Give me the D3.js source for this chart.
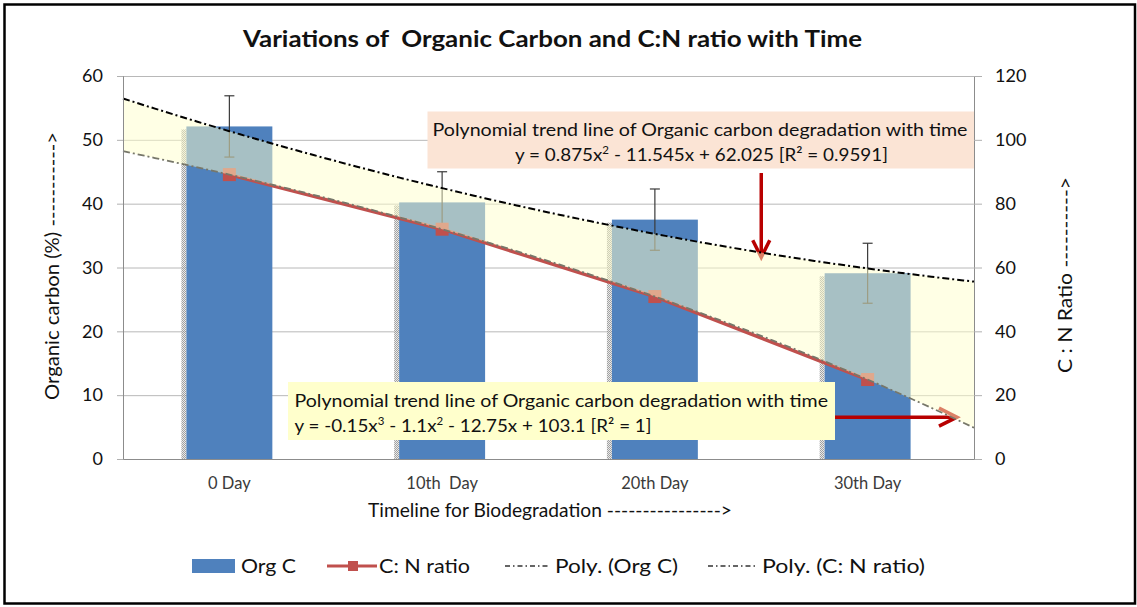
<!DOCTYPE html>
<html><head><meta charset="utf-8">
<script src="https://cdn.jsdelivr.net/npm/d3@7"></script>
<style>
html,body{margin:0;padding:0;background:#fff;}
svg text{font-family:Lato,"Noto Sans",sans-serif;}
</style></head>
<body><svg id="c" width="1137" height="607"></svg>
<script>
// ---------- data ----------
const categories = ["0 Day", "10th  Day", "20th Day", "30th Day"];
const orgC = [52.1, 40.2, 37.5, 29.1];
const orgCErr = [4.8, 4.8, 4.8, 4.7];
const cnRatio = [89.1, 72.0, 50.9, 24.9];
const leftTicks = [0, 10, 20, 30, 40, 50, 60];
const rightTicks = [0, 20, 40, 60, 80, 100, 120];
const polyOrgC = [62.025, -11.545, 0.875];          // c0 + c1 x + c2 x^2
const polyCN = [103.1, -12.75, -1.1, -0.15];         // c0 + c1 x + c2 x^2 + c3 x^3
const seriesNames = ["Org C", "C: N ratio", "Poly. (Org C)", "Poly. (C: N ratio)"];
const titleText = "Variations of  Organic Carbon and C:N ratio with Time";

// ---------- layout ----------
const W = 1137, H = 607;
const M = {left: 123, right: 974, top: 76, bottom: 459};
const svg = d3.select("#c");
svg.append("rect").attr("width", W).attr("height", H).attr("fill", "#fff");

const defs = svg.append("defs");
const pat = defs.append("pattern").attr("id", "stip").attr("width", 2).attr("height", 2)
  .attr("patternUnits", "userSpaceOnUse");
pat.append("rect").attr("width", 2).attr("height", 2).attr("fill", "#e4e4e4");
pat.append("rect").attr("width", 1).attr("height", 1).attr("fill", "#8a8a8a");
pat.append("rect").attr("x", 1).attr("y", 1).attr("width", 1).attr("height", 1).attr("fill", "#8a8a8a");

const x = d3.scaleBand().domain(categories).range([M.left, M.right]).padding(0);
const xT = d3.scaleLinear().domain([0.5, categories.length + 0.5]).range([M.left, M.right]);
const yL = d3.scaleLinear().domain([0, 60]).range([M.bottom, M.top]);
const yR = d3.scaleLinear().domain([0, 120]).range([M.bottom, M.top]);
const barW = x.bandwidth() * 0.404;
const cx = c => x(c) + x.bandwidth() / 2;

const poly = (c, v) => c.reduce((s, k, i) => s + k * Math.pow(v, i), 0);
const trendX = d3.range(0.5, categories.length + 0.5001, 0.05);

// gridlines
svg.append("g").selectAll("line").data(leftTicks.filter(t => t > 0)).join("line")
  .attr("x1", M.left).attr("x2", M.right)
  .attr("y1", d => yL(d) + 0.5).attr("y2", d => yL(d) + 0.5)
  .attr("stroke", "#b8b8b8").attr("stroke-width", 1);

// bars (with soft stippled shadow)
const gb = svg.append("g");
gb.selectAll("rect.sh").data(orgC).join("rect").attr("class", "sh")
  .attr("x", (d, i) => cx(categories[i]) - barW / 2 - 5).attr("width", 5)
  .attr("y", d => yL(d) + 3).attr("height", d => yL(0) - yL(d) - 3)
  .attr("fill", "url(#stip)").attr("opacity", 0.8);
gb.selectAll("rect.b").data(orgC).join("rect").attr("class", "b")
  .attr("x", (d, i) => cx(categories[i]) - barW / 2).attr("width", barW)
  .attr("y", d => yL(d)).attr("height", d => yL(0) - yL(d))
  .attr("fill", "#4F81BD");

// error bars
const ge = svg.append("g").attr("stroke", "#3a3a3a").attr("stroke-width", 1.2);
orgC.forEach((v, i) => {
  const xc = cx(categories[i]);
  const t = yL(v + orgCErr[i]), b = yL(v - orgCErr[i]);
  ge.append("line").attr("x1", xc).attr("x2", xc).attr("y1", t).attr("y2", b);
  ge.append("line").attr("x1", xc - 5).attr("x2", xc + 5).attr("y1", t).attr("y2", t);
  ge.append("line").attr("x1", xc - 5).attr("x2", xc + 5).attr("y1", b).attr("y2", b);
});

// C:N ratio line + markers
const lineCN = d3.line().x((d, i) => cx(categories[i])).y(d => yR(d));
svg.append("path").datum(cnRatio).attr("d", lineCN).attr("fill", "none")
  .attr("stroke", "#C0504D").attr("stroke-width", 3.5);
svg.append("g").selectAll("rect").data(cnRatio).join("rect")
  .attr("x", (d, i) => cx(categories[i]) - 6.5).attr("y", d => yR(d) - 6.5)
  .attr("width", 13).attr("height", 13).attr("fill", "#C0504D");

// red arrows (annotations, placed in data space)
const arrowC = "#B80000";
const a1x = xT(3.5), a1y1 = yL(44.8), a1y2 = yL(31.6);
svg.append("line").attr("x1", a1x).attr("x2", a1x).attr("y1", a1y1).attr("y2", a1y2 - 2)
  .attr("stroke", arrowC).attr("stroke-width", 3.5);
svg.append("path").attr("d", `M${a1x - 8.5},${a1y2 - 17} L${a1x},${a1y2} L${a1x + 8.5},${a1y2 - 17}`)
  .attr("fill", "none").attr("stroke", arrowC).attr("stroke-width", 3.5);
const a2y = yR(13.1), a2x1 = xT(3.82), a2x2 = xT(4.42);
svg.append("line").attr("x1", a2x1).attr("x2", a2x2 - 2).attr("y1", a2y).attr("y2", a2y)
  .attr("stroke", arrowC).attr("stroke-width", 3.5);
svg.append("path").attr("d", `M${a2x2 - 18},${a2y - 9} L${a2x2},${a2y} L${a2x2 - 18},${a2y + 9}`)
  .attr("fill", "none").attr("stroke", arrowC).attr("stroke-width", 3.5);

// translucent band between the two trend lines
const bandPts = trendX.map(v => [xT(v), yL(poly(polyOrgC, v))])
  .concat(trendX.slice().reverse().map(v => [xT(v), yR(poly(polyCN, v))]));
svg.append("path").attr("d", "M" + bandPts.map(p => p.join(",")).join("L") + "Z")
  .attr("fill", "#FFFFCC").attr("opacity", 0.5);

// trend lines
const tLineL = d3.line().x(v => xT(v)).y(v => yL(poly(polyOrgC, v)));
const tLineR = d3.line().x(v => xT(v)).y(v => yR(poly(polyCN, v)));
svg.append("path").datum(trendX).attr("d", tLineR).attr("fill", "none")
  .attr("stroke", "#77776a").attr("stroke-width", 1.8).attr("stroke-dasharray", "7,3,2,3");
svg.append("path").datum(trendX).attr("d", tLineL).attr("fill", "none")
  .attr("stroke", "#000").attr("stroke-width", 2).attr("stroke-dasharray", "7,3,2,3");

// axes
const axL = svg.append("g").attr("transform", `translate(${M.left},0)`)
  .call(d3.axisLeft(yL).tickValues(leftTicks).tickSize(6).tickPadding(14));
const axR = svg.append("g").attr("transform", `translate(${M.right},0)`)
  .call(d3.axisRight(yR).tickValues(rightTicks).tickSize(8).tickPadding(13));
[axL, axR].forEach(a => {
  a.select(".domain").attr("stroke", "#8c8c8c");
  a.selectAll(".tick line").attr("stroke", "#b0b0b0");
  a.selectAll(".tick text").attr("font-family", "Lato").attr("font-size", 18).attr("fill", "#111");
});
const axB = svg.append("g").attr("transform", `translate(0,${M.bottom})`)
  .call(d3.axisBottom(x).tickSize(0).tickPadding(18));
axB.select(".domain").attr("stroke", "#8c8c8c");
axB.selectAll(".tick text").attr("font-family", "'Liberation Serif', serif").attr("font-size", 16.5)
  .attr("fill", "#3a3a3a").style("white-space", "pre");

// title and axis titles
svg.append("text").attr("x", 552.5).attr("y", 47).attr("text-anchor", "middle")
  .attr("font-weight", "bold").attr("font-size", 23).attr("fill", "#111")
  .attr("textLength", 619).attr("lengthAdjust", "spacingAndGlyphs").style("white-space", "pre")
  .text(titleText);
svg.append("text").attr("transform", "translate(59,266) rotate(-90)").attr("text-anchor", "middle")
  .attr("font-size", 20).attr("fill", "#111").attr("textLength", 268).attr("lengthAdjust", "spacingAndGlyphs")
  .text("Organic carbon (%) ----------->");
svg.append("text").attr("transform", "translate(1072,275) rotate(-90)").attr("text-anchor", "middle")
  .attr("font-size", 20).attr("fill", "#111").attr("textLength", 196).attr("lengthAdjust", "spacingAndGlyphs")
  .text("C : N Ratio ---------->");
svg.append("text").attr("x", 368).attr("y", 517)
  .attr("font-size", 20).attr("fill", "#111").attr("textLength", 364).attr("lengthAdjust", "spacingAndGlyphs")
  .text("Timeline for Biodegradation ---------------->");

// annotation boxes
function eqText(g, xx, yy, anchor, parts, len) {
  const t = g.append("text").attr("x", xx).attr("y", yy).attr("text-anchor", anchor)
    .attr("font-size", 18).attr("fill", "#111");
  if (len) t.attr("textLength", len).attr("lengthAdjust", "spacingAndGlyphs");
  parts.forEach(p => {
    if (p.sup) t.append("tspan").attr("font-size", 11).attr("dy", -7).text(p.sup);
    else t.append("tspan").attr("dy", p.after ? 7 : 0).text(p.t);
  });
}
const ann = svg.append("g");
ann.append("rect").attr("x", 427.5).attr("y", 111.5).attr("width", 546.5).attr("height", 57)
  .attr("fill", "#FBE4D5");
eqText(ann, 700, 136, "middle", [{t: "Polynomial trend line of Organic carbon degradation with time"}], 535);
eqText(ann, 701.5, 161, "middle", [{t: "y = 0.875x"}, {sup: "2"}, {t: " - 11.545x + 62.025 [R² = 0.9591]", after: true}], 373);
ann.append("rect").attr("x", 288).attr("y", 382).attr("width", 547).attr("height", 58)
  .attr("fill", "#FFFFCC");
eqText(ann, 294.5, 406.5, "start", [{t: "Polynomial trend line of Organic carbon degradation with time"}], 533.5);
eqText(ann, 294.5, 432, "start", [{t: "y = -0.15x"}, {sup: "3"}, {t: " - 1.1x", after: true}, {sup: "2"}, {t: " - 12.75x + 103.1 [R² = 1]", after: true}], 357);

// legend
const lg = svg.append("g");
const ly = 566;
lg.append("rect").attr("x", 192).attr("y", 559).attr("width", 43).attr("height", 14).attr("fill", "#4F81BD");
lg.append("line").attr("x1", 327).attr("x2", 377).attr("y1", ly).attr("y2", ly)
  .attr("stroke", "#C0504D").attr("stroke-width", 3);
lg.append("rect").attr("x", 348).attr("y", ly - 5).attr("width", 10).attr("height", 10).attr("fill", "#C0504D");
[[505, 550], [708, 757]].forEach(([a, b]) => {
  lg.append("line").attr("x1", a).attr("x2", b).attr("y1", ly).attr("y2", ly)
    .attr("stroke", "#333").attr("stroke-width", 1.3).attr("stroke-dasharray", "5,3,1.5,3");
});
const legX = [[241, 55], [379, 91], [555, 123], [762, 163]];
seriesNames.forEach((n, i) => {
  lg.append("text").attr("x", legX[i][0]).attr("y", 573).attr("font-size", 20).attr("fill", "#111")
    .attr("textLength", legX[i][1]).attr("lengthAdjust", "spacingAndGlyphs").text(n);
});

// border
svg.append("rect").attr("x", 4.5).attr("y", 4.5).attr("width", 1130.5).attr("height", 599)
  .attr("fill", "none").attr("stroke", "#000").attr("stroke-width", 2.5);
</script></body></html>
